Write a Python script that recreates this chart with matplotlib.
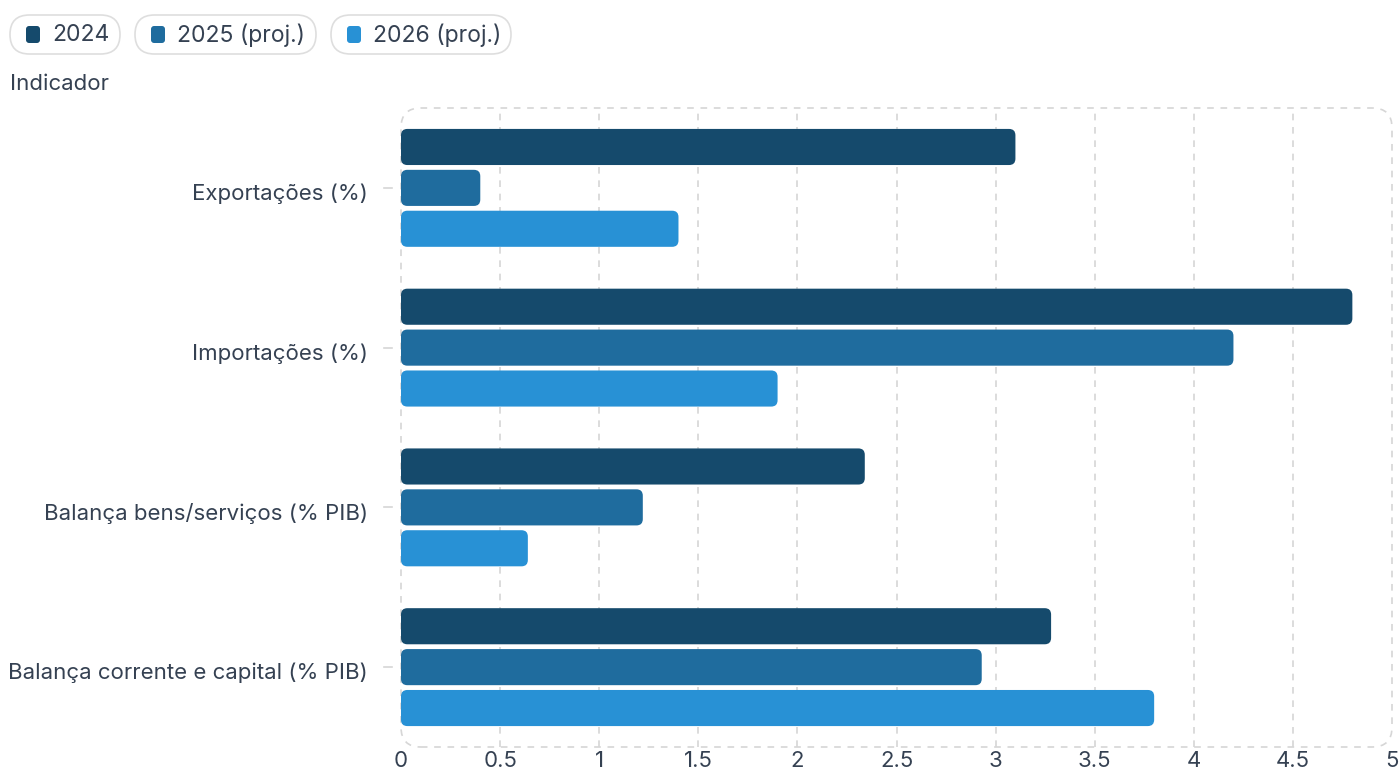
import matplotlib
matplotlib.use("Agg")
import matplotlib.pyplot as plt
import matplotlib.transforms as mtransforms
from matplotlib.patches import FancyBboxPatch
import numpy as np


categories = ["Exportações (%)", "Importações (%)",
              "Balança bens/serviços (% PIB)", "Balança corrente e capital (% PIB)"]
series_names = ["2024", "2025 (proj.)", "2026 (proj.)"]
v2024 = [3.10, 4.80, 2.34, 3.28]
v2025 = [0.40, 4.20, 1.22, 2.93]
v2026 = [1.40, 1.90, 0.64, 3.80]
xticks = [0, 0.5, 1, 1.5, 2, 2.5, 3, 3.5, 4, 4.5, 5]
xticklabels = ["0", "0.5", "1", "1.5", "2", "2.5", "3", "3.5", "4", "4.5", "5"]

colors = ["#154a6c", "#1f6c9e", "#2891d5"]
text_color = "#354152"
grid_color = "#d6d6d6"

plt.rcParams["font.family"] = ["Inter", "DejaVu Sans"]


def main():
	fig = plt.figure(figsize=(14, 7.69), dpi=100)
	ax = fig.add_axes([401 / 1400, 22 / 769, 991 / 1400, 639 / 769])

	ax.set_xlim(0, 5)
	ax.set_ylim(len(categories) - 0.5, -0.5)

	# px per data unit, for the rounded corners
	px_x = 991 / 5.0
	px_y = 639 / 4.0
	aspect = px_x / px_y

	offsets = [-0.256, 0.0, 0.256]
	h = 0.226
	for s, vals in enumerate([v2024, v2025, v2026]):
		for i, v in enumerate(vals):
			y = i + offsets[s]
			box = FancyBboxPatch((0, y - h / 2), v, h,
				boxstyle="round,pad=0,rounding_size=0.032",
				mutation_aspect=aspect,
				facecolor=colors[s], edgecolor="none", zorder=3)
			ax.add_patch(box)

	# grid
	for t in xticks[1:-1]:
		ax.axvline(t, color=grid_color, linestyle=(0, (4, 4)), linewidth=1.2, zorder=1)

	for sp in ax.spines.values():
		sp.set_visible(False)

	frame = FancyBboxPatch((0, 0), 1, 1, transform=ax.transAxes,
		boxstyle="round,pad=0,rounding_size=0.02",
		mutation_aspect=991 / 639,
		facecolor="none", edgecolor=grid_color, linestyle=(0, (4, 4)),
		linewidth=1.2, clip_on=False, zorder=1)
	ax.add_patch(frame)

	# category labels + small tick dashes left of the frame
	trans = mtransforms.blended_transform_factory(ax.transAxes, ax.transData)
	for i, cat in enumerate(categories):
		ax.plot([-17 / 991, -9 / 991], [i, i], color=grid_color, linewidth=1.2,
			transform=trans, clip_on=False)
		ax.text(-33 / 991, i + 4 / px_y, cat, transform=trans, ha="right",
			va="center_baseline", fontsize=16, color=text_color)

	ax.set_xticks(xticks)
	ax.set_xticklabels(xticklabels)
	ax.set_yticks([])
	ax.tick_params(axis="x", length=0, pad=3, labelsize=16, labelcolor=text_color)

	fig.text(10 / 1400, 1 - 84 / 769, "Indicador", fontsize=16, color=text_color,
		ha="left", va="center")

	# legend pills
	pills = [(10, 120), (135, 316), (331, 511)]
	for (x0, x1), name, c in zip(pills, series_names, colors):
		pill = FancyBboxPatch((x0 / 1400, 1 - 54 / 769), (x1 - x0) / 1400, 39 / 769,
			transform=fig.transFigure,
			boxstyle="round,pad=0,rounding_size=0.0139",
			mutation_aspect=1400 / 769,
			facecolor="white", edgecolor="#dedede", linewidth=1.2)
		fig.patches.append(pill)
		sq = FancyBboxPatch(((x0 + 16) / 1400, 1 - 43 / 769), 14 / 1400, 17 / 769,
			transform=fig.transFigure,
			boxstyle="round,pad=0,rounding_size=0.0022",
			mutation_aspect=1400 / 769,
			facecolor=c, edgecolor="none")
		fig.patches.append(sq)
		fig.text((x0 + 42) / 1400, 1 - 35 / 769, name, fontsize=16.5, color=text_color,
			ha="left", va="center")

	fig.savefig("out.png", dpi=100)


if __name__ == "__main__":
	main()
